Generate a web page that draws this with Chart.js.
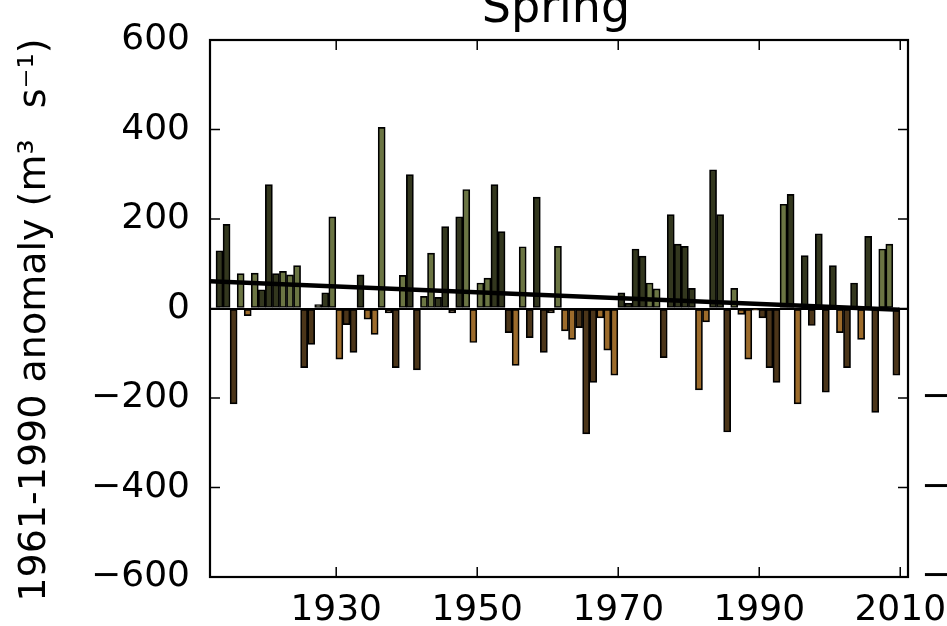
<!DOCTYPE html>
<html>
<head>
<meta charset="utf-8">
<style>
  html, body { margin: 0; padding: 0; background: #ffffff; overflow: hidden; }
  canvas { display: block; }
</style>
<script src="https://cdn.jsdelivr.net/npm/chart.js@4/dist/chart.umd.min.js"></script>
</head>
<body>
<canvas id="chart" width="947" height="626"></canvas>
<script>
// Spring discharge anomalies relative to the 1961-1990 mean
const years = [];
for (let y = 1913; y <= 2009; y++) years.push(y);

const anomalies = [
  129, 188, -213, 78, -16, 79, 42, 277, 78, 83,          // 1913-1922
  75, 96, -132, -80, 9, 35, 205, -113, -36, -98,         // 1923-1932
  75, -24, -58, 405, -10, -132, 74, 299, -137, 27,       // 1933-1942
  124, 25, 183, -10, 205, 266, -76, 57, 68, 277,         // 1943-1952
  172, -54, -127, 138, -65, 249, -98, -10, 139, -50,     // 1953-1962
  -69, -43, -280, -165, -21, -93, -149, 35, 12, 133,     // 1963-1972
  117, 57, 44, -110, 210, 144, 139, 45, -182, -30,       // 1973-1982
  310, 210, -276, 45, -13, -113, -4, -21, -132, -165,    // 1983-1992
  233, 255, -213, 118, -38, 167, -187, 96, -54, -132,    // 1993-2002
  57, -69, 161, -232, 133, 144, -149                     // 2003-2009
];

// 1 = pale shade, 0 = deep shade
const shade = [
  0, 0, 0, 1, 1, 1, 0, 0, 0, 1,
  1, 1, 0, 0, 1, 0, 1, 1, 0, 0,
  0, 1, 1, 1, 0, 0, 1, 0, 0, 1,
  1, 0, 0, 0, 0, 1, 1, 1, 1, 0,
  0, 0, 1, 1, 0, 0, 0, 0, 1, 1,
  1, 0, 0, 0, 1, 1, 1, 0, 0, 0,
  0, 1, 1, 0, 0, 0, 0, 0, 1, 1,
  0, 0, 0, 1, 1, 1, 1, 0, 0, 0,
  1, 0, 1, 0, 0, 0, 0, 0, 1, 0,
  0, 1, 0, 0, 1, 1, 0
];

// Linear trend over the record
const trendYears = [1912.1, 2009.9];
const trendValues = [61, -3];

const yearTicks = [1930, 1950, 1970, 1990, 2010];
const valueTicks = [-600, -400, -200, 0, 200, 400, 600];
const neighbourLabels = [-200, -400, -600];
const yLabel = '1961-1990 anomaly (m\u00B3 \u2002s\u207B\u00B9)';

const FONT = 'DejaVu Sans';
const posDeep = '#33371e', posPale = '#6b7543';
const negDeep = '#4b3519', negPale = '#9c6b2b';

const fmt = v => (v < 0 ? '\u2212' + Math.abs(v) : String(v));

const frame = {
  id: 'frame',
  afterDatasetsDraw(chart) {
    const { ctx, chartArea: a, scales } = chart;
    ctx.save();
    ctx.strokeStyle = '#000';
    ctx.lineWidth = 1.5;
    ctx.beginPath();
    valueTicks.forEach(v => {
      const y = scales.y.getPixelForValue(v);
      ctx.moveTo(a.left, y); ctx.lineTo(a.left + 10, y);
      ctx.moveTo(a.right, y); ctx.lineTo(a.right - 10, y);
    });
    yearTicks.forEach(v => {
      const x = scales.x.getPixelForValue(v);
      ctx.moveTo(x, a.bottom); ctx.lineTo(x, a.bottom - 10);
      ctx.moveTo(x, a.top); ctx.lineTo(x, a.top + 10);
    });
    ctx.stroke();
    ctx.lineWidth = 2.2;
    ctx.strokeRect(a.left, a.top, a.right - a.left, a.bottom - a.top);
    ctx.restore();
  },
  afterDraw(chart) {
    const { ctx, chartArea: a, scales } = chart;
    ctx.save();
    ctx.fillStyle = '#000';
    ctx.font = '46px "' + FONT + '"';
    ctx.textAlign = 'center';
    ctx.textBaseline = 'alphabetic';
    ctx.fillText('Spring', (a.left + a.right) / 2 - 3, 22);
    // axis title, rotated
    ctx.save();
    ctx.translate(35, 320);
    ctx.rotate(-Math.PI / 2);
    ctx.font = '38px "' + FONT + '"';
    ctx.textBaseline = 'middle';
    ctx.fillText(yLabel, 0, 0);
    ctx.restore();
    // tick labels of the neighbouring panel, cut by the page edge
    ctx.font = '36px "' + FONT + '"';
    ctx.textAlign = 'left';
    ctx.textBaseline = 'middle';
    neighbourLabels.forEach(v => {
      ctx.fillText(fmt(v), a.right + 13, scales.y.getPixelForValue(v));
    });
    ctx.restore();
  }
};

new Chart(document.getElementById('chart'), {
  data: {
    datasets: [
      {
        type: 'line',
        order: 0,
        data: trendYears.map((x, i) => ({ x, y: trendValues[i] })),
        borderColor: '#000',
        borderWidth: 4.5,
        pointRadius: 0,
        fill: false
      },
      {
        type: 'bar',
        order: 1,
        data: years.map((yr, i) => ({ x: yr + 0.45, y: anomalies[i] })),
        backgroundColor: c => {
          const i = c.dataIndex;
          const v = anomalies[i];
          if (v >= 0) return shade[i] ? posPale : posDeep;
          return shade[i] ? negPale : negDeep;
        },
        borderColor: '#000',
        borderWidth: 1.7,
        borderSkipped: false,
        barPercentage: 1.0,
        categoryPercentage: 1
      }
    ]
  },
  options: {
    responsive: false,
    animation: false,
    devicePixelRatio: 1,
    layout: { padding: { left: 0, right: 39, top: 40, bottom: 0 } },
    plugins: { legend: { display: false }, tooltip: { enabled: false }, title: { display: false } },
    scales: {
      x: {
        type: 'linear',
        min: 1912.1,
        max: 2011.1,
        offset: false,
        grid: { display: false, drawTicks: false },
        border: { display: false },
        afterBuildTicks: s => { s.ticks = yearTicks.map(v => ({ value: v })); },
        afterFit: s => { s.height = 49; s.paddingLeft = 0; s.paddingRight = 0; },
        ticks: {
          autoSkip: false,
          maxRotation: 0,
          padding: 12,
          color: '#000',
          font: { family: FONT, size: 36 },
          callback: v => String(v)
        }
      },
      y: {
        min: -600,
        max: 600,
        afterBuildTicks: s => { s.ticks = valueTicks.map(v => ({ value: v })); },
        afterFit: s => { s.width = 210; s.paddingTop = 0; s.paddingBottom = 0; },
        grid: {
          drawTicks: false,
          color: c => (c.tick && c.tick.value === 0 ? '#000' : 'rgba(0,0,0,0)'),
          lineWidth: 2
        },
        border: { display: false },
        ticks: {
          padding: 20,
          color: '#000',
          font: { family: FONT, size: 36 },
          callback: v => fmt(v)
        }
      }
    }
  },
  plugins: [frame]
});
</script>
</body>
</html>
